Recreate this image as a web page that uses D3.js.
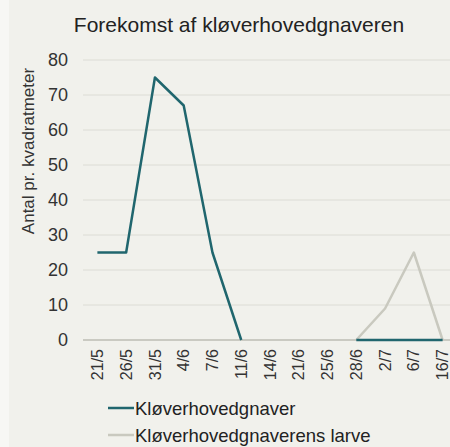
<!DOCTYPE html>
<html lang="da">

<head>
    <meta charset="UTF-8">
    <title>Forekomst af kløverhovedgnaveren</title>
    <style>
        html, body { margin: 0; padding: 0; background: #f1f1ec; }
        svg { display: block; font-family: "Liberation Sans", Arial, sans-serif; }
    </style>
</head>

<body>
    <div id="workspace"></div>

    <script src="https://cdn.jsdelivr.net/npm/d3@7"></script>
    <script>
        const dates = ["21/5", "26/5", "31/5", "4/6", "7/6", "11/6", "14/6", "21/6", "25/6", "28/6", "2/7", "6/7", "16/7"];
        const gnaver = [25, 25, 75, 67, 25, 0, null, null, null, 0, 0, 0, 0];
        const larve = [null, null, null, null, null, null, null, null, null, 0, 9, 25, 0];
        const yTicks = [0, 10, 20, 30, 40, 50, 60, 70, 80];
        const seriesNames = ["Kløverhovedgnaver", "Kløverhovedgnaverens larve"];
        const seriesColors = ["#20666e", "#c9c9bf"];

        const width = 450, height = 447;
        const svg = d3.select("#workspace").append("svg")
            .attr("width", width)
            .attr("height", height);

        svg.append("rect").attr("width", width).attr("height", height).attr("fill", "#f1f1ec");
        svg.append("rect").attr("width", 9).attr("height", height).attr("fill", "#f7f7f4");

        const x = d3.scaleBand().domain(dates).range([83, 457]);
        const y = d3.scaleLinear().domain([0, 80]).range([340, 60]);

        // title
        svg.append("text")
            .attr("x", 239).attr("y", 32)
            .attr("text-anchor", "middle")
            .attr("font-size", 21)
            .attr("fill", "#222")
            .text("Forekomst af kløverhovedgnaveren");

        // grid
        svg.append("g").selectAll("line")
            .data(yTicks.filter(d => d > 0))
            .enter().append("line")
            .attr("x1", 83).attr("x2", width)
            .attr("y1", d => y(d)).attr("y2", d => y(d))
            .attr("stroke", "#dcdcd5").attr("stroke-width", 1);

        svg.append("line")
            .attr("x1", 83).attr("x2", width)
            .attr("y1", y(0)).attr("y2", y(0))
            .attr("stroke", "#bcbcb4").attr("stroke-width", 1.5);

        // y axis labels
        const yAxis = svg.append("g")
            .attr("transform", "translate(68,0)")
            .call(d3.axisLeft(y).tickValues(yTicks).tickSize(0).tickPadding(0));
        yAxis.select(".domain").remove();
        yAxis.selectAll("text").attr("font-size", 18).attr("fill", "#333")
            .attr("font-family", "Liberation Sans, Arial, sans-serif");

        svg.append("text")
            .attr("transform", "translate(34,151) rotate(-90)")
            .attr("text-anchor", "middle")
            .attr("font-size", 17)
            .attr("fill", "#333")
            .text("Antal pr. kvadratmeter");

        // x axis labels
        const xAxis = svg.append("g")
            .attr("transform", "translate(0,349)")
            .call(d3.axisBottom(x).tickSize(0).tickPadding(0));
        xAxis.select(".domain").remove();
        xAxis.selectAll("text")
            .attr("font-size", 16).attr("fill", "#333")
            .attr("font-family", "Liberation Sans, Arial, sans-serif")
            .attr("text-anchor", "end")
            .attr("dy", "0.35em")
            .attr("transform", "rotate(-90)");

        // lines
        const line = d3.line()
            .defined(d => d.v !== null)
            .x(d => x(d.date) + x.bandwidth() / 2)
            .y(d => y(d.v));

        [larve, gnaver].forEach((vals, k) => {
            const idx = k === 0 ? 1 : 0;
            svg.append("path")
                .datum(dates.map((d, i) => ({ date: d, v: vals[i] })))
                .attr("fill", "none")
                .attr("stroke", seriesColors[idx])
                .attr("stroke-width", 2.5)
                .attr("stroke-linejoin", "round")
                .attr("d", line);
        });

        // legend
        const legend = svg.append("g").selectAll("g")
            .data(seriesNames)
            .enter().append("g")
            .attr("transform", (d, i) => "translate(108," + (408 + i * 27) + ")");
        legend.append("line")
            .attr("x1", 0).attr("x2", 26)
            .attr("stroke", (d, i) => seriesColors[i])
            .attr("stroke-width", 2.5);
        legend.append("text")
            .attr("x", 27).attr("y", 6.5)
            .attr("font-size", 18.5)
            .attr("fill", "#222")
            .text(d => d);
    </script>
</body>

</html>
